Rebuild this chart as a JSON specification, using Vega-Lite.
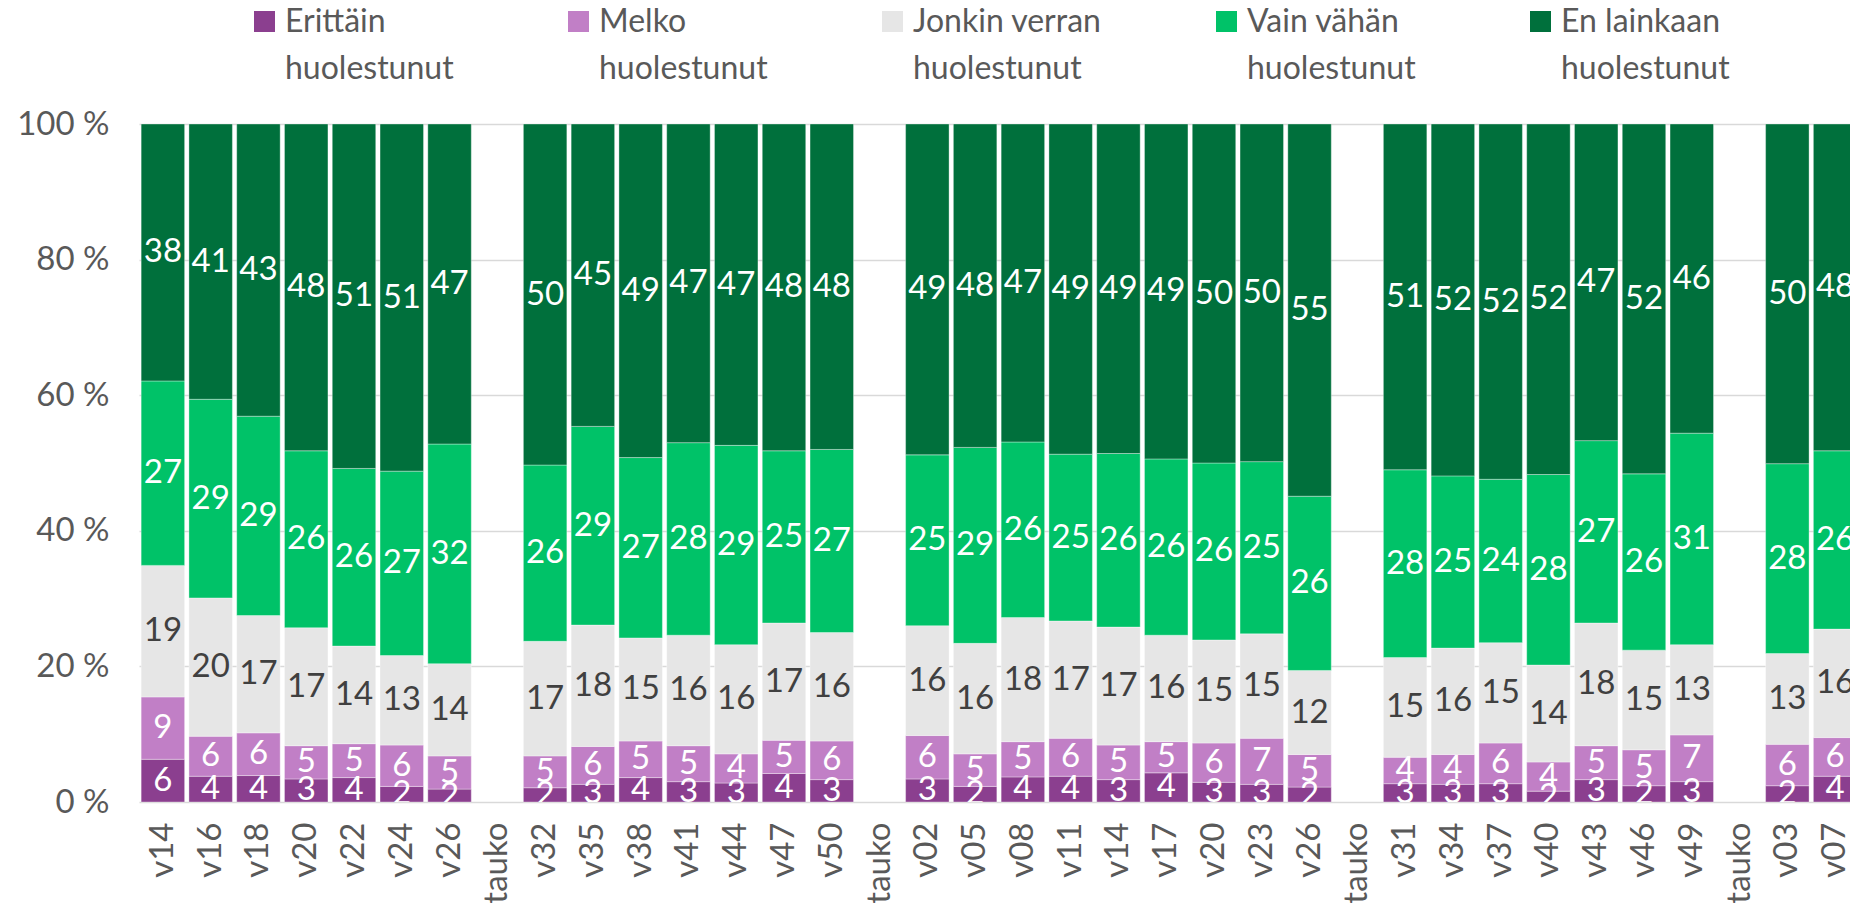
{
  "$schema": "https://vega.github.io/schema/vega-lite/v6.json",
  "width": 1720,
  "height": 678,
  "autosize": {"type": "none"},
  "padding": {"left": 139, "top": 124, "right": 0, "bottom": 109},
  "background": "white",
  "config": {
    "font": "Lato",
    "view": {"stroke": null},
    "axis": {"labelColor": "#595959", "labelFont": "Lato", "labelFontSize": 33},
    "style": {"guide-label": {"lineHeight": 47}}
  },
  "data": {
    "values": [
      {"week": "2020:v14", "Erittäin huolestunut": 6.3, "Melko huolestunut": 9.2, "Jonkin verran huolestunut": 19.4, "Vain vähän huolestunut": 27.2, "En lainkaan huolestunut": 37.9},
      {"week": "2020:v16", "Erittäin huolestunut": 3.8, "Melko huolestunut": 5.9, "Jonkin verran huolestunut": 20.4, "Vain vähän huolestunut": 29.3, "En lainkaan huolestunut": 40.6},
      {"week": "2020:v18", "Erittäin huolestunut": 3.9, "Melko huolestunut": 6.3, "Jonkin verran huolestunut": 17.3, "Vain vähän huolestunut": 29.4, "En lainkaan huolestunut": 43.1},
      {"week": "2020:v20", "Erittäin huolestunut": 3.4, "Melko huolestunut": 4.9, "Jonkin verran huolestunut": 17.4, "Vain vähän huolestunut": 26.1, "En lainkaan huolestunut": 48.2},
      {"week": "2020:v22", "Erittäin huolestunut": 3.6, "Melko huolestunut": 5.0, "Jonkin verran huolestunut": 14.4, "Vain vähän huolestunut": 26.2, "En lainkaan huolestunut": 50.8},
      {"week": "2020:v24", "Erittäin huolestunut": 2.3, "Melko huolestunut": 6.1, "Jonkin verran huolestunut": 13.2, "Vain vähän huolestunut": 27.2, "En lainkaan huolestunut": 51.2},
      {"week": "2020:v26", "Erittäin huolestunut": 1.9, "Melko huolestunut": 4.9, "Jonkin verran huolestunut": 13.6, "Vain vähän huolestunut": 32.4, "En lainkaan huolestunut": 47.2},
      {"week": "2020:v32", "Erittäin huolestunut": 2.1, "Melko huolestunut": 4.7, "Jonkin verran huolestunut": 16.9, "Vain vähän huolestunut": 26.0, "En lainkaan huolestunut": 50.3},
      {"week": "2020:v35", "Erittäin huolestunut": 2.6, "Melko huolestunut": 5.6, "Jonkin verran huolestunut": 17.9, "Vain vähän huolestunut": 29.3, "En lainkaan huolestunut": 44.6},
      {"week": "2020:v38", "Erittäin huolestunut": 3.6, "Melko huolestunut": 5.4, "Jonkin verran huolestunut": 15.2, "Vain vähän huolestunut": 26.6, "En lainkaan huolestunut": 49.2},
      {"week": "2020:v41", "Erittäin huolestunut": 3.0, "Melko huolestunut": 5.3, "Jonkin verran huolestunut": 16.3, "Vain vähän huolestunut": 28.4, "En lainkaan huolestunut": 47.0},
      {"week": "2020:v44", "Erittäin huolestunut": 2.8, "Melko huolestunut": 4.3, "Jonkin verran huolestunut": 16.1, "Vain vähän huolestunut": 29.4, "En lainkaan huolestunut": 47.4},
      {"week": "2020:v47", "Erittäin huolestunut": 4.2, "Melko huolestunut": 4.9, "Jonkin verran huolestunut": 17.3, "Vain vähän huolestunut": 25.4, "En lainkaan huolestunut": 48.2},
      {"week": "2020:v50", "Erittäin huolestunut": 3.3, "Melko huolestunut": 5.7, "Jonkin verran huolestunut": 16.0, "Vain vähän huolestunut": 27.0, "En lainkaan huolestunut": 48.0},
      {"week": "2021:v02", "Erittäin huolestunut": 3.4, "Melko huolestunut": 6.4, "Jonkin verran huolestunut": 16.2, "Vain vähän huolestunut": 25.2, "En lainkaan huolestunut": 48.8},
      {"week": "2021:v05", "Erittäin huolestunut": 2.3, "Melko huolestunut": 4.8, "Jonkin verran huolestunut": 16.3, "Vain vähän huolestunut": 28.9, "En lainkaan huolestunut": 47.7},
      {"week": "2021:v08", "Erittäin huolestunut": 3.7, "Melko huolestunut": 5.2, "Jonkin verran huolestunut": 18.3, "Vain vähän huolestunut": 25.9, "En lainkaan huolestunut": 46.9},
      {"week": "2021:v11", "Erittäin huolestunut": 3.8, "Melko huolestunut": 5.6, "Jonkin verran huolestunut": 17.3, "Vain vähän huolestunut": 24.6, "En lainkaan huolestunut": 48.7},
      {"week": "2021:v14", "Erittäin huolestunut": 3.3, "Melko huolestunut": 5.1, "Jonkin verran huolestunut": 17.4, "Vain vähän huolestunut": 25.6, "En lainkaan huolestunut": 48.6},
      {"week": "2021:v17", "Erittäin huolestunut": 4.3, "Melko huolestunut": 4.6, "Jonkin verran huolestunut": 15.7, "Vain vähän huolestunut": 26.0, "En lainkaan huolestunut": 49.4},
      {"week": "2021:v20", "Erittäin huolestunut": 2.9, "Melko huolestunut": 5.8, "Jonkin verran huolestunut": 15.2, "Vain vähän huolestunut": 26.1, "En lainkaan huolestunut": 50.0},
      {"week": "2021:v23", "Erittäin huolestunut": 2.6, "Melko huolestunut": 6.8, "Jonkin verran huolestunut": 15.4, "Vain vähän huolestunut": 25.4, "En lainkaan huolestunut": 49.8},
      {"week": "2021:v26", "Erittäin huolestunut": 2.2, "Melko huolestunut": 4.8, "Jonkin verran huolestunut": 12.4, "Vain vähän huolestunut": 25.7, "En lainkaan huolestunut": 54.9},
      {"week": "2021:v31", "Erittäin huolestunut": 2.7, "Melko huolestunut": 3.9, "Jonkin verran huolestunut": 14.7, "Vain vähän huolestunut": 27.7, "En lainkaan huolestunut": 51.0},
      {"week": "2021:v34", "Erittäin huolestunut": 2.6, "Melko huolestunut": 4.4, "Jonkin verran huolestunut": 15.7, "Vain vähän huolestunut": 25.4, "En lainkaan huolestunut": 51.9},
      {"week": "2021:v37", "Erittäin huolestunut": 2.7, "Melko huolestunut": 6.0, "Jonkin verran huolestunut": 14.8, "Vain vähän huolestunut": 24.1, "En lainkaan huolestunut": 52.4},
      {"week": "2021:v40", "Erittäin huolestunut": 1.6, "Melko huolestunut": 4.3, "Jonkin verran huolestunut": 14.3, "Vain vähän huolestunut": 28.1, "En lainkaan huolestunut": 51.7},
      {"week": "2021:v43", "Erittäin huolestunut": 3.3, "Melko huolestunut": 5.0, "Jonkin verran huolestunut": 18.1, "Vain vähän huolestunut": 26.9, "En lainkaan huolestunut": 46.7},
      {"week": "2021:v46", "Erittäin huolestunut": 2.4, "Melko huolestunut": 5.3, "Jonkin verran huolestunut": 14.7, "Vain vähän huolestunut": 26.0, "En lainkaan huolestunut": 51.6},
      {"week": "2021:v49", "Erittäin huolestunut": 3.0, "Melko huolestunut": 6.9, "Jonkin verran huolestunut": 13.3, "Vain vähän huolestunut": 31.2, "En lainkaan huolestunut": 45.6},
      {"week": "2022:v03", "Erittäin huolestunut": 2.4, "Melko huolestunut": 6.1, "Jonkin verran huolestunut": 13.4, "Vain vähän huolestunut": 28.0, "En lainkaan huolestunut": 50.1},
      {"week": "2022:v07", "Erittäin huolestunut": 3.8, "Melko huolestunut": 5.7, "Jonkin verran huolestunut": 16.0, "Vain vähän huolestunut": 26.3, "En lainkaan huolestunut": 48.2}
    ]
  },
  "transform": [
    {"fold": ["Erittäin huolestunut", "Melko huolestunut", "Jonkin verran huolestunut", "Vain vähän huolestunut", "En lainkaan huolestunut"], "as": ["group", "pct"]},
    {"calculate": "indexof(['Erittäin huolestunut', 'Melko huolestunut', 'Jonkin verran huolestunut', 'Vain vähän huolestunut', 'En lainkaan huolestunut'], datum.group)", "as": "rank"}
  ],
  "encoding": {
    "x": {
      "field": "week",
      "type": "nominal",
      "title": null,
      "scale": {
        "domain": ["2020:v14", "2020:v16", "2020:v18", "2020:v20", "2020:v22", "2020:v24", "2020:v26", "2020a:tauko", "2020:v32", "2020:v35", "2020:v38", "2020:v41", "2020:v44", "2020:v47", "2020:v50", "2020b:tauko", "2021:v02", "2021:v05", "2021:v08", "2021:v11", "2021:v14", "2021:v17", "2021:v20", "2021:v23", "2021:v26", "2021a:tauko", "2021:v31", "2021:v34", "2021:v37", "2021:v40", "2021:v43", "2021:v46", "2021:v49", "2021b:tauko", "2022:v03", "2022:v07"],
        "paddingInner": 0.09,
        "paddingOuter": 0.045
      },
      "axis": {
        "domain": false,
        "ticks": false,
        "labelAngle": -90,
        "labelPadding": 20,
        "labelExpr": "split(datum.label, ':')[1]"
      }
    }
  },
  "layer": [
    {
      "mark": {"type": "bar", "stroke": "white", "strokeWidth": 1, "strokeOpacity": 0.35},
      "encoding": {
        "y": {
          "field": "pct",
          "type": "quantitative",
          "stack": "zero",
          "scale": {"domain": [0, 100], "nice": false},
          "title": null,
          "axis": {
            "values": [0, 20, 40, 60, 80, 100],
            "domain": false,
            "ticks": false,
            "grid": true,
            "gridColor": "#d9d9d9",
            "gridWidth": 1.5,
            "labelPadding": 30,
            "labelExpr": "datum.value + ' %'"
          }
        },
        "order": {"field": "rank", "type": "quantitative", "sort": "ascending"},
        "color": {
          "field": "group",
          "type": "nominal",
          "scale": {
            "domain": ["Erittäin huolestunut", "Melko huolestunut", "Jonkin verran huolestunut", "Vain vähän huolestunut", "En lainkaan huolestunut"],
            "range": ["#8b3f8f", "#c17fc6", "#e6e6e6", "#00c268", "#00703c"]
          },
          "legend": {
            "title": null,
            "orient": "none",
            "legendX": 115,
            "legendY": -113,
            "direction": "horizontal",
            "columns": 5,
            "columnPadding": 114,
            "gridAlign": "each",
            "padding": 0,
            "symbolType": "M-1,-1H0V0H-1Z",
            "symbolSize": 1764,
            "symbolStrokeWidth": 0,
            "labelFont": "Lato",
            "labelFontSize": 32,
            "labelColor": "#595959",
            "labelOffset": -11,
            "labelLimit": 0,
            "labelBaseline": "alphabetic",
            "labelExpr": "[replace(datum.label, ' huolestunut', ''), 'huolestunut']"
          }
        }
      }
    },
    {
      "mark": {"type": "text", "clip": true, "font": "Lato", "fontSize": 33, "baseline": "middle"},
      "encoding": {
        "y": {"field": "pct", "type": "quantitative", "stack": "zero", "bandPosition": 0.5},
        "order": {"field": "rank", "type": "quantitative", "sort": "ascending"},
        "detail": {"field": "group"},
        "text": {"field": "pct", "type": "quantitative", "format": ".0f"},
        "color": {"condition": {"test": "datum.group === 'Jonkin verran huolestunut'", "value": "#404040"}, "value": "#ffffff"}
      }
    }
  ]
}
